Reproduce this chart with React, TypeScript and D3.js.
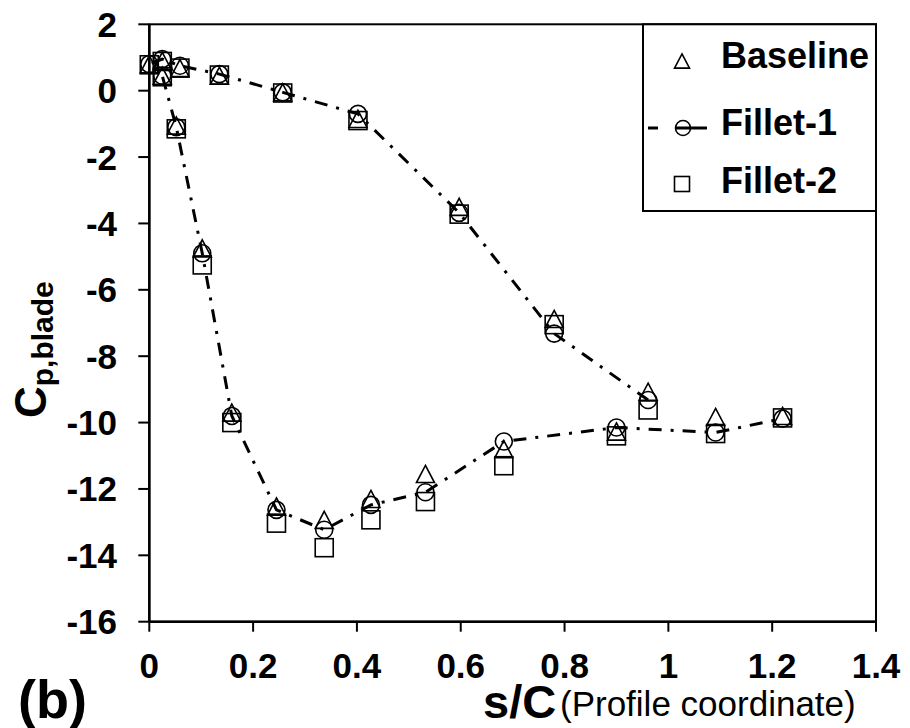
import React from 'react';
import * as d3 from 'd3';

// s/C stations on each side of the profile
const sPressure = [0, 0.025, 0.059, 0.135, 0.257, 0.402, 0.597, 0.78, 0.961];
const sSuction = [0.025, 0.052, 0.102, 0.159, 0.245, 0.337, 0.427, 0.532, 0.683, 0.9, 1.091, 1.22];

// Cp,blade values
const baselinePressure = [0.8, 0.9, 0.68, 0.45, -0.05, -0.85, -3.5, -6.88, -9.07];
const baselineSuction = [0.45, -1.05, -4.75, -9.7, -12.53, -12.93, -12.3, -11.55, -10.8, -10.27, -9.83, -9.8];
const fillet1Pressure = [0.8, 0.95, 0.75, 0.5, -0.05, -0.7, -3.68, -7.32, -9.32];
const fillet1Suction = [0.45, -1.1, -4.9, -9.8, -12.63, -13.23, -12.48, -12.1, -10.57, -10.15, -10.3, -9.88];
const fillet2Pressure = [0.78, 0.88, 0.68, 0.47, -0.07, -0.9, -3.72, -7.05, -9.62];
const fillet2Suction = [0.42, -1.15, -5.25, -10.0, -13.03, -13.77, -12.93, -12.38, -11.3, -10.4, -10.33, -9.86];

const xTicks = [0, 0.2, 0.4, 0.6, 0.8, 1, 1.2, 1.4];
const yTicks = [2, 0, -2, -4, -6, -8, -10, -12, -14, -16];
const legendNames = ['Baseline', 'Fillet-1', 'Fillet-2'];

const W = 910, H = 728;
const left = 149.3, right = 876, top = 24.3, bottom = 621.7;
const font = '"Liberation Sans", Arial, sans-serif';

type P = [number, number];

const toPoints = (xs: number[], ys: number[]): P[] => xs.map((x, i) => [x, ys[i]]);

function Marker({ kind, cx, cy, size = 18 }: { kind: string; cx: number; cy: number; size?: number }) {
  const h = size / 2;
  if (kind === 'tri') {
    const th = size * 0.95;
    return <path d={`M${cx},${cy - th / 2}L${cx + h},${cy + th / 2}L${cx - h},${cy + th / 2}Z`} fill="none" stroke="#000" strokeWidth={1.6} />;
  }
  if (kind === 'circ') {
    return <circle cx={cx} cy={cy} r={h - 0.5} fill="none" stroke="#000" strokeWidth={1.6} />;
  }
  return <rect x={cx - h} y={cy - h} width={size} height={size} fill="none" stroke="#000" strokeWidth={1.6} />;
}

export default function App() {
  const x = d3.scaleLinear().domain([0, 1.4]).range([left, right]);
  const y = d3.scaleLinear().domain([-16, 2]).range([bottom, top]);

  const series = [
    { kind: 'tri', pts: [...toPoints(sPressure, baselinePressure), ...toPoints(sSuction, baselineSuction)] },
    { kind: 'circ', pts: [...toPoints(sPressure, fillet1Pressure), ...toPoints(sSuction, fillet1Suction)] },
    { kind: 'sq', pts: [...toPoints(sPressure, fillet2Pressure), ...toPoints(sSuction, fillet2Suction)] },
  ];

  // Fillet-1 line: trailing edge of pressure side -> leading edge -> suction side
  const linePts: P[] = [
    ...toPoints(sPressure, fillet1Pressure).reverse(),
    ...toPoints(sSuction, fillet1Suction),
  ];
  const line = d3.line<P>().x(d => x(d[0])).y(d => y(d[1]));
  const dash = '13,9,3,9';

  const legY = [61, 128, 184];
  const legText = [68, 135, 193];

  return (
    <svg width={W} height={H} style={{ position: 'absolute', left: 0, top: 0, background: '#fff' }} fontFamily={font}>
      <rect width={W} height={H} fill="#fff" />

      {/* plot frame */}
      <rect x={left} y={top} width={right - left} height={bottom - top} fill="none" stroke="#000" strokeWidth={2} />
      <line x1={left} x2={left} y1={top} y2={bottom} stroke="#000" strokeWidth={2.5} />
      <line x1={left} x2={right} y1={bottom} y2={bottom} stroke="#000" strokeWidth={2.5} />

      {yTicks.map(t => (
        <g key={'y' + t}>
          <line x1={left - 11} x2={left} y1={y(t)} y2={y(t)} stroke="#000" strokeWidth={2} />
          <text x={117} y={y(t) + 12.5} textAnchor="end" fontSize={35} fontWeight="bold">{t}</text>
        </g>
      ))}
      {xTicks.map(t => (
        <g key={'x' + t}>
          <line x1={x(t)} x2={x(t)} y1={bottom} y2={bottom + 10} stroke="#000" strokeWidth={2} />
          <text x={x(t)} y={678} textAnchor="middle" fontSize={35} fontWeight="bold">{t}</text>
        </g>
      ))}

      {/* fillet-1 dash-dot line */}
      <path d={line(linePts) || ''} fill="none" stroke="#000" strokeWidth={3} strokeDasharray={dash} />

      {series.map(s => s.pts.map((p, i) => <Marker key={s.kind + i} kind={s.kind} cx={x(p[0])} cy={y(p[1])} />))}

      {/* legend */}
      <rect x={643} y={top} width={right - 643} height={211 - top} fill="#fff" stroke="#000" strokeWidth={2} />
      <Marker kind="tri" cx={682} cy={legY[0]} size={15} />
      <line x1={648} x2={707} y1={legY[1]} y2={legY[1]} stroke="#000" strokeWidth={3} strokeDasharray="10,18,40" />
      <Marker kind="circ" cx={683} cy={legY[1]} size={16} />
      <Marker kind="sq" cx={682} cy={legY[2]} size={15} />
      {legendNames.map((n, i) => (
        <text key={n} x={721} y={legText[i]} fontSize={36} fontWeight="bold">{n}</text>
      ))}

      {/* axis titles */}
      <text x={483} y={718} fontSize={47} fontWeight="bold">s/C</text>
      <text x={560} y={716} fontSize={35}>(Profile coordinate)</text>
      <text x={18} y={718} fontSize={54} fontWeight="bold">(b)</text>
      <text transform="translate(46,418) rotate(-90)" fontWeight="bold">
        <tspan fontSize={44}>C</tspan>
        <tspan fontSize={30} dy={7}>p,blade</tspan>
      </text>
    </svg>
  );
}
